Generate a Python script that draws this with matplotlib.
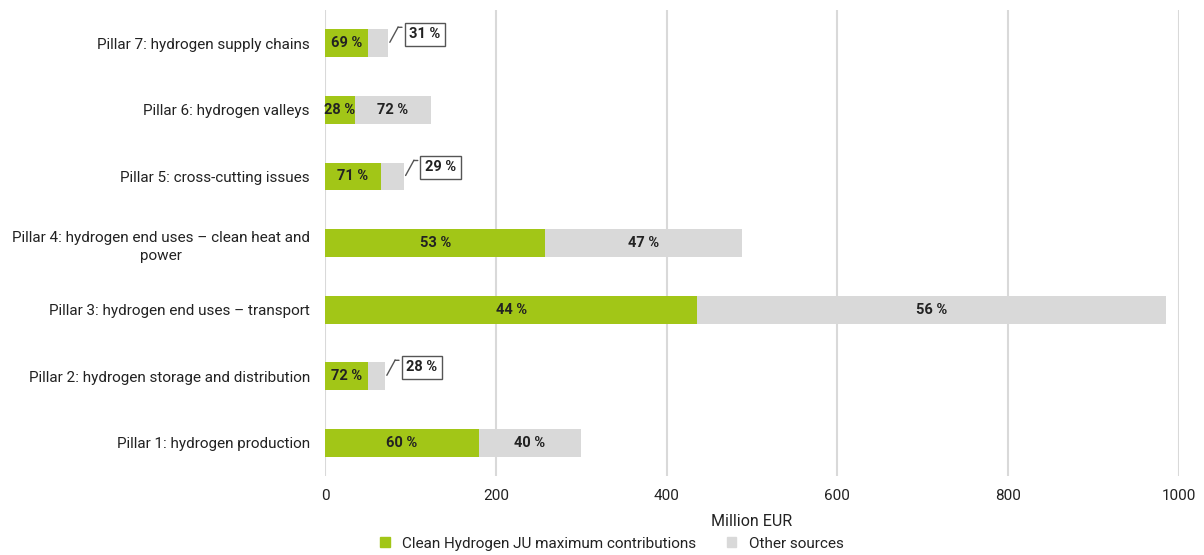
import matplotlib
matplotlib.use("Agg")
import matplotlib.pyplot as plt
from matplotlib.patches import Patch
from matplotlib.transforms import offset_copy

plt.rcParams['font.family'] = ['Roboto', 'DejaVu Sans']

categories = [
    "Pillar 1: hydrogen production",
    "Pillar 2: hydrogen storage and distribution",
    "Pillar 3: hydrogen end uses \u2013 transport",
    "Pillar 4: hydrogen end uses \u2013 clean heat and\npower",
    "Pillar 5: cross-cutting issues",
    "Pillar 6: hydrogen valleys",
    "Pillar 7: hydrogen supply chains",
]
ju_values = [180, 50.5, 436, 258, 65, 35, 50.5]
other_values = [120, 19.5, 549, 230, 27, 89, 23]
ju_pct = ["60 %", "72 %", "44 %", "53 %", "71 %", "28 %", "69 %"]
other_pct = ["40 %", "28 %", "56 %", "47 %", "29 %", "72 %", "31 %"]
callout = [False, True, False, False, True, False, True]
x_ticks = [0, 200, 400, 600, 800, 1000]

green = "#a2c617"
grey = "#d9d9d9"
txt = "#222222"
lc = "#555555"

fig = plt.figure(figsize=(12.04, 5.55), dpi=100)
ax = fig.add_axes([0.27, 0.142, 0.709, 0.84])

y = list(range(len(categories)))
h = 0.42
ax.barh(y, ju_values, height=h, color=green, zorder=3)
ax.barh(y, other_values, left=ju_values, height=h, color=grey, zorder=3)

ax.set_xlim(0, 1000)
ax.set_ylim(-0.5, len(categories) - 0.5)

for i in y:
    ax.text(ju_values[i] / 2, i, ju_pct[i], ha='center', va='center',
            fontsize=10.5, fontweight='bold', color=txt, zorder=4)
    tot = ju_values[i] + other_values[i]
    if callout[i]:
        # diagonal leader from bar end up towards the box, then a short horizontal tick
        base = offset_copy(ax.transData, fig=fig, x=2, y=1, units='dots')
        ax.annotate('', xy=(tot, i), xycoords=base, xytext=(6, 11),
                    textcoords='offset points',
                    arrowprops=dict(arrowstyle='-', color=lc, lw=1, shrinkA=0, shrinkB=0))
        tip = offset_copy(ax.transData, fig=fig, x=10, y=16, units='dots')
        ax.annotate('', xy=(tot, i), xycoords=tip, xytext=(3, 0),
                    textcoords='offset points',
                    arrowprops=dict(arrowstyle='-', color=lc, lw=1, shrinkA=0, shrinkB=0))
        box = offset_copy(ax.transData, fig=fig, x=37, y=9, units='dots')
        ax.text(tot, i, other_pct[i], transform=box, ha='center', va='center',
                fontsize=10.5, fontweight='bold', color=txt, zorder=5,
                bbox=dict(boxstyle='square,pad=0.32', fc='white', ec=lc, lw=1))
    else:
        ax.text(ju_values[i] + other_values[i] / 2, i, other_pct[i], ha='center',
                va='center', fontsize=10.5, fontweight='bold', color=txt, zorder=4)

ax.set_xticks(x_ticks)
ax.set_xticklabels([str(v) for v in x_ticks], fontsize=11, color=txt)
ax.set_yticks(y)
ax.set_yticklabels(categories, fontsize=11, color=txt, ha='right',
                   multialignment='center', linespacing=1.4)
ax.tick_params(axis='y', length=0, pad=11)
ax.tick_params(axis='x', length=0, pad=9)
ax.grid(axis='x', color=grey, lw=1.5, zorder=0)
for s in ax.spines.values():
    s.set_visible(False)
ax.set_xlabel("Million EUR", fontsize=11.5, color=txt, labelpad=8)

handles = [Patch(color=green, label="Clean Hydrogen JU maximum contributions"),
           Patch(color=grey, label="Other sources")]
fig.legend(handles=handles, loc='lower center', bbox_to_anchor=(0.508, -0.017), ncol=2,
           frameon=False, fontsize=11, handlelength=0.65, handleheight=0.65,
           columnspacing=2.0, handletextpad=0.8, labelcolor=txt)

fig.savefig("out.png", dpi=100)
